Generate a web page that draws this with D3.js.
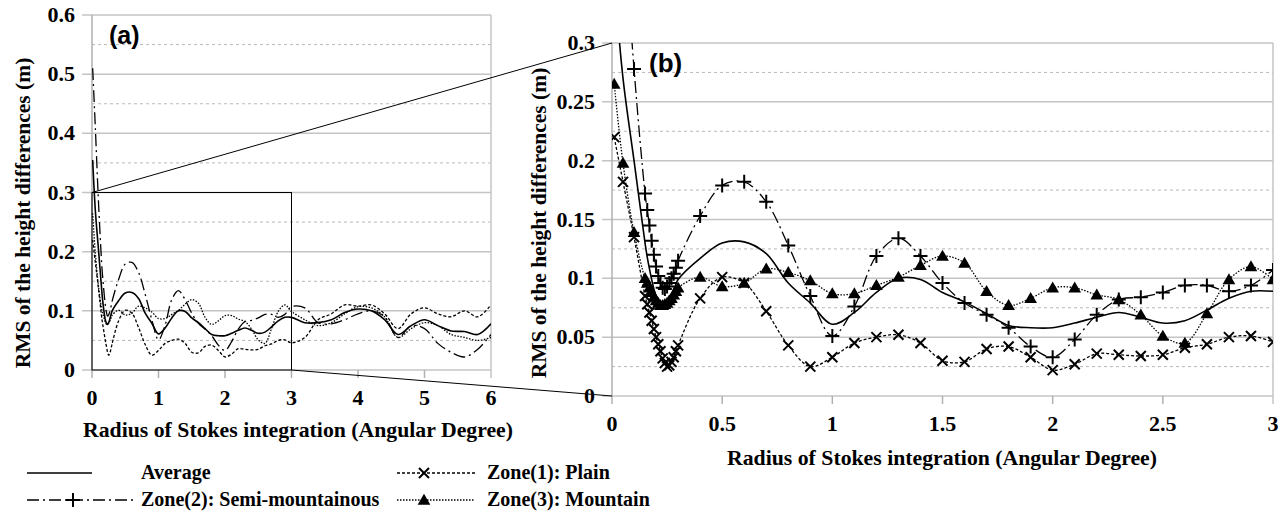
<!DOCTYPE html>
<html>

<head>
  <title>RMS of height differences</title>
  <script type="text/javascript" src="https://cdn.jsdelivr.net/npm/d3@7"></script>
  <style>
    body { margin: 0; background: #fff; }
    text { font-family: "Liberation Serif", "Times New Roman", serif; font-weight: bold; fill: #000; }
    .panelTag { font-family: "Liberation Sans", Arial, sans-serif; }
  </style>
</head>

<body>
  <script type="text/javascript">
    // size of the picture
    const w = 1283;
    const h = 512;

    // radius of integration (angular degree)
    const radius = [0.01, 0.05, 0.1, 0.15, 0.16, 0.17, 0.18, 0.19, 0.2, 0.21, 0.22, 0.23, 0.24, 0.25, 0.26, 0.27, 0.28, 0.29, 0.3,
      0.4, 0.5, 0.6, 0.7, 0.8, 0.9, 1.0, 1.1, 1.2, 1.3, 1.4, 1.5, 1.6, 1.7, 1.8, 1.9, 2.0, 2.1, 2.2, 2.3, 2.4, 2.5, 2.6, 2.7, 2.8, 2.9, 3.0,
      3.2, 3.4, 3.6, 3.8, 4.0, 4.2, 4.4, 4.6, 4.8, 5.0, 5.2, 5.4, 5.6, 5.8, 6.0];

    // RMS values (m) for each series
    const average = [0.355, 0.27, 0.2, 0.130, 0.118, 0.108, 0.099, 0.091, 0.085, 0.081, 0.078, 0.077, 0.078, 0.080, 0.083, 0.087, 0.091, 0.095, 0.099,
      0.117, 0.130, 0.131, 0.121, 0.096, 0.079, 0.061, 0.071, 0.088, 0.100, 0.099, 0.088, 0.080, 0.070, 0.060, 0.058, 0.058, 0.062, 0.067, 0.071, 0.067, 0.062, 0.064, 0.073, 0.083, 0.089, 0.089,
      0.080, 0.080, 0.085, 0.097, 0.103, 0.100, 0.085, 0.060, 0.075, 0.085, 0.075, 0.066, 0.065, 0.060, 0.078];
    const plain = [0.220, 0.182, 0.135, 0.085, 0.078, 0.071, 0.064, 0.057, 0.050, 0.044, 0.038, 0.032, 0.028, 0.025, 0.026, 0.029, 0.033, 0.038, 0.043,
      0.083, 0.101, 0.096, 0.072, 0.043, 0.025, 0.033, 0.045, 0.050, 0.052, 0.045, 0.030, 0.029, 0.040, 0.042, 0.033, 0.022, 0.027, 0.036, 0.035, 0.034, 0.035, 0.041, 0.044, 0.050, 0.051, 0.046,
      0.055, 0.085, 0.095, 0.110, 0.108, 0.110, 0.095, 0.070, 0.095, 0.105, 0.095, 0.090, 0.100, 0.090, 0.110];
    const semiMountainous = [0.51, 0.41, 0.278, 0.172, 0.158, 0.145, 0.132, 0.120, 0.110, 0.102, 0.096, 0.092, 0.091, 0.093, 0.096, 0.100, 0.104, 0.109, 0.115,
      0.153, 0.179, 0.182, 0.165, 0.128, 0.085, 0.051, 0.076, 0.119, 0.134, 0.119, 0.096, 0.079, 0.069, 0.058, 0.042, 0.033, 0.048, 0.069, 0.082, 0.084, 0.088, 0.094, 0.094, 0.089, 0.094, 0.107,
      0.105, 0.080, 0.078, 0.085, 0.095, 0.100, 0.090, 0.055, 0.075, 0.070, 0.045, 0.030, 0.022, 0.035, 0.060];
    const mountain = [0.265, 0.198, 0.139, 0.100, 0.096, 0.092, 0.088, 0.084, 0.081, 0.079, 0.077, 0.077, 0.078, 0.079, 0.081, 0.083, 0.086, 0.089, 0.092,
      0.101, 0.093, 0.096, 0.108, 0.105, 0.098, 0.087, 0.087, 0.094, 0.101, 0.111, 0.119, 0.113, 0.089, 0.077, 0.083, 0.092, 0.092, 0.086, 0.082, 0.069, 0.051, 0.045, 0.070, 0.099, 0.110, 0.099,
      0.085, 0.075, 0.080, 0.095, 0.107, 0.105, 0.090, 0.055, 0.070, 0.080, 0.075, 0.060, 0.055, 0.050, 0.055];

    // tick labels
    const ticksAX = [0, 1, 2, 3, 4, 5, 6];
    const ticksAY = [0, 0.1, 0.2, 0.3, 0.4, 0.5, 0.6];
    const ticksBX = [0, 0.5, 1, 1.5, 2, 2.5, 3];
    const ticksBY = [0, 0.05, 0.1, 0.15, 0.2, 0.25, 0.3];

    const series = [
      { name: "Average", values: average, dash: null, marker: null },
      { name: "Zone(1): Plain", values: plain, dash: "3,2", marker: "cross" },
      { name: "Zone(2): Semi-mountainous", values: semiMountainous, dash: "12,4,2,4", marker: "plus" },
      { name: "Zone(3): Mountain", values: mountain, dash: "1.5,1.5", marker: "triangle" }
    ];

    const svg = d3.select("body")
      .append("svg")
      .attr("width", w)
      .attr("height", h);

    // marker shapes
    function drawMarker(g, type, x, y) {
      if (type === "cross") {
        g.append("path").attr("d", `M${x - 5},${y - 5}L${x + 5},${y + 5}M${x - 5},${y + 5}L${x + 5},${y - 5}`)
          .attr("stroke", "#000").attr("stroke-width", 2).attr("fill", "none");
      } else if (type === "plus") {
        g.append("path").attr("d", `M${x - 7},${y}H${x + 7}M${x},${y - 7}V${y + 7}`)
          .attr("stroke", "#000").attr("stroke-width", 2).attr("fill", "none");
      } else if (type === "triangle") {
        g.append("path").attr("d", d3.symbol(d3.symbolTriangle, 70)()).attr("transform", `translate(${x},${y + 1})`)
          .attr("fill", "#000");
      }
    }

    // one panel: grid, frame, axes and lines
    function panel(id, xScale, yScale, xTicks, yTicks, withMarkers) {
      const [x0, x1] = xScale.range();
      const [y0, y1] = yScale.range();
      const g = svg.append("g");

      // minor dashed grid halfway between major lines
      const step = yTicks[1] - yTicks[0];
      yTicks.slice(0, -1).forEach(t => {
        g.append("line").attr("x1", x0).attr("x2", x1)
          .attr("y1", yScale(t + step / 2)).attr("y2", yScale(t + step / 2))
          .attr("stroke", "#b8b8b8").attr("stroke-dasharray", "3,3").attr("stroke-width", 1);
      });
      // major grid with outer ticks
      yTicks.forEach(t => {
        g.append("line").attr("x1", x0 - 10).attr("x2", x1)
          .attr("y1", yScale(t)).attr("y2", yScale(t))
          .attr("stroke", "#c4c4c4").attr("stroke-width", 1.5);
      });
      // y axis and right border
      g.append("line").attr("x1", x0).attr("x2", x0).attr("y1", y1).attr("y2", y0 + 8)
        .attr("stroke", "#b0b0b0").attr("stroke-width", 1.5);
      g.append("line").attr("x1", x1).attr("x2", x1).attr("y1", y1).attr("y2", y0 + 8)
        .attr("stroke", "#c4c4c4").attr("stroke-width", 1.5);
      xTicks.slice(1, -1).forEach(t => {
        g.append("line").attr("x1", xScale(t)).attr("x2", xScale(t)).attr("y1", y0).attr("y2", y0 + 8)
          .attr("stroke", "#b0b0b0").attr("stroke-width", 1.5);
      });

      // tick labels
      g.selectAll(".yl").data(yTicks).enter().append("text")
        .attr("x", x0 - 17).attr("y", d => yScale(d) + 7)
        .attr("text-anchor", "end").style("font-size", "22px")
        .text(d => d3.format("~g")(d));
      g.selectAll(".xl").data(xTicks).enter().append("text")
        .attr("x", d => xScale(d)).attr("y", y0 + 35)
        .attr("text-anchor", "middle").style("font-size", "22px")
        .text(d => d3.format("~g")(d));

      // clipped series
      svg.append("clipPath").attr("id", id)
        .append("rect").attr("x", x0).attr("y", y1).attr("width", x1 - x0).attr("height", y0 - y1);
      const plot = svg.append("g").attr("clip-path", `url(#${id})`);
      const maxX = xScale.domain()[1];
      series.forEach(s => {
        const pts = radius.map((r, i) => [r, s.values[i]]).filter(p => p[0] <= maxX + 1e-9);
        const line = d3.line()
          .x(d => xScale(d[0]))
          .y(d => yScale(d[1]))
          .curve(d3.curveCatmullRom.alpha(0.5));
        plot.append("path").attr("d", line(pts))
          .attr("fill", "none").attr("stroke", "#000")
          .attr("stroke-width", s.marker ? 1.3 : 1.6)
          .attr("stroke-dasharray", s.dash);
        if (withMarkers && s.marker) {
          pts.forEach(p => drawMarker(plot, s.marker, xScale(p[0]), yScale(p[1])));
        }
      });
      return g;
    }

    // panel (a)
    const xA = d3.scaleLinear().domain([0, 6]).range([92, 491]);
    const yA = d3.scaleLinear().domain([0, 0.6]).range([370, 15]);
    panel("clipA", xA, yA, ticksAX, ticksAY, false);

    // panel (b)
    const xB = d3.scaleLinear().domain([0, 3]).range([612, 1273]);
    const yB = d3.scaleLinear().domain([0, 0.3]).range([396, 43]);
    panel("clipB", xB, yB, ticksBX, ticksBY, true);

    // zoom box and connectors
    svg.append("rect")
      .attr("x", xA(0)).attr("y", yA(0.3))
      .attr("width", xA(3) - xA(0)).attr("height", yA(0) - yA(0.3))
      .attr("fill", "none").attr("stroke", "#000").attr("stroke-width", 1);
    svg.append("line").attr("x1", xA(0)).attr("y1", yA(0.3)).attr("x2", xB(0)).attr("y2", yB(0.3))
      .attr("stroke", "#000").attr("stroke-width", 1);
    svg.append("line").attr("x1", xA(3)).attr("y1", yA(0)).attr("x2", xB(0)).attr("y2", yB(0))
      .attr("stroke", "#000").attr("stroke-width", 1);

    // panel tags
    svg.append("text").attr("class", "panelTag").attr("x", 109).attr("y", 44)
      .style("font-size", "25px").text("(a)");
    svg.append("text").attr("class", "panelTag").attr("x", 649).attr("y", 72)
      .style("font-size", "26px").text("(b)");

    // axis titles
    const yTitle = "RMS of the height differences (m)";
    const xTitle = "Radius of Stokes integration (Angular Degree)";
    svg.append("text").attr("transform", "translate(30,213) rotate(-90)")
      .attr("text-anchor", "middle").style("font-size", "21.5px").text(yTitle);
    svg.append("text").attr("transform", "translate(546,223) rotate(-90)")
      .attr("text-anchor", "middle").style("font-size", "21.5px").text(yTitle);
    svg.append("text").attr("x", 83).attr("y", 437)
      .attr("textLength", 430).attr("lengthAdjust", "spacingAndGlyphs")
      .style("font-size", "21.5px").text(xTitle);
    svg.append("text").attr("x", 727).attr("y", 465)
      .attr("textLength", 430).attr("lengthAdjust", "spacingAndGlyphs")
      .style("font-size", "21.5px").text(xTitle);

    // legend
    const legendPos = [[27, 473], [397, 473], [27, 500], [397, 500]];
    const legendLen = [65, 78, 108, 78];
    series.forEach((s, i) => {
      const [lx, ly] = legendPos[i];
      const lg = svg.append("g");
      lg.append("line").attr("x1", lx).attr("x2", lx + legendLen[i]).attr("y1", ly).attr("y2", ly)
        .attr("stroke", "#000").attr("stroke-width", s.marker ? 1.3 : 1.6)
        .attr("stroke-dasharray", s.dash);
      if (s.marker) drawMarker(lg, s.marker, lx + (i === 2 ? 46 : 27), ly);
      lg.append("text").attr("x", lx + (i % 2 === 0 ? 114 : 90)).attr("y", ly + 6)
        .style("font-size", "20px").text(s.name);
    });
  </script>
</body>

</html>
